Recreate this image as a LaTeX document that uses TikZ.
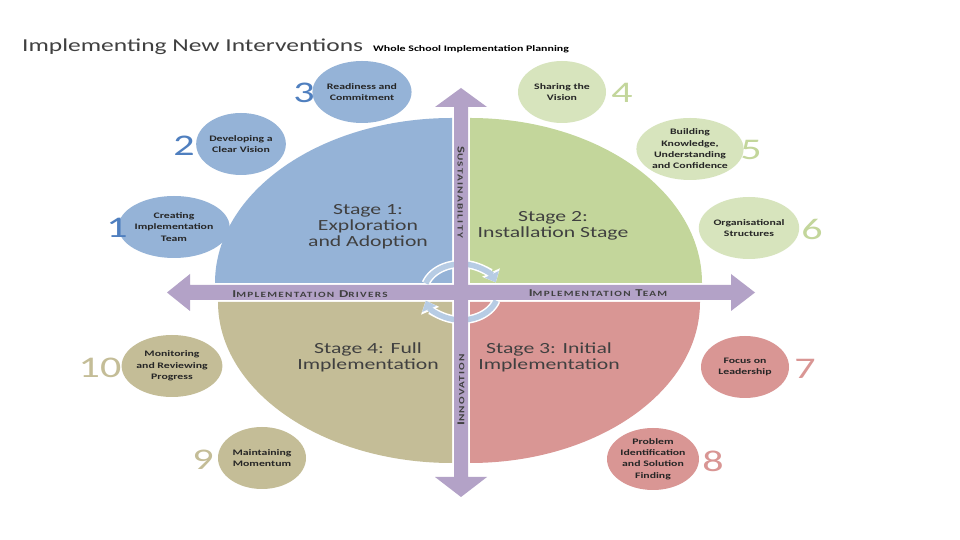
\documentclass[tikz,border=0pt]{standalone}
\usepackage{fontspec}
\setmainfont{Carlito}[FakeStretch=1.4]
\newfontfamily\capsfont{Carlito}[FakeStretch=1.4,LetterSpace=16]
\usetikzlibrary{shapes.geometric,arrows.meta}
\definecolor{qblue}{HTML}{95B3D7}
\definecolor{qgreen}{HTML}{C3D69B}
\definecolor{qgreenl}{HTML}{D7E4BD}
\definecolor{qtan}{HTML}{C4BD97}
\definecolor{qpink}{HTML}{D99694}
\definecolor{nblue}{HTML}{4F7FBF}
\definecolor{arrowc}{HTML}{B3A2C7}
\definecolor{cycblue}{HTML}{B7CCE4}
\definecolor{txt}{HTML}{404040}
\definecolor{ctxt}{HTML}{262626}
\newcommand{\fsc}[2]{{\fontsize{10.5}{10.5}\selectfont #1}{\fontsize{8}{8}\selectfont #2}}
\begin{document}
\begin{tikzpicture}[x=1pt,y=1pt,
  sc/.style={ellipse, minimum width=88pt, minimum height=62pt, inner sep=0pt, align=center,
    text=ctxt, font=\fontsize{8.4}{11.3}\selectfont\bfseries},
  num/.style={font=\fontsize{30}{30}\selectfont, inner sep=0pt},
  stagetxt/.style={align=center, text=txt, font=\fontsize{15.5}{16.2}\selectfont},
  axlbl/.style={text=txt, inner sep=0pt, font=\capsfont\bfseries},
  cyc/.style={line width=5.5pt, draw=cycblue, -{Triangle[length=9pt,width=15pt]},
    preaction={draw=white, line width=8.5pt, -{Triangle[length=11pt,width=19pt]}}}]
\useasboundingbox (0,0) rectangle (960,540);
\fill[white] (0,0) rectangle (960,540);

% title
\node[anchor=base west, inner sep=0pt, text=txt, font=\fontsize{18.2}{18.2}\selectfont] (title) at (22,488) {Implementing New Interventions};
\node[anchor=base west, inner sep=0pt, text=black, font=\fontsize{8.5}{8.5}\selectfont\bfseries] (subtitle) at (373,488) {Whole School Implementation Planning};

% quadrants
\fill[qblue] (452,257) -- (215,257) arc[start angle=180,end angle=90,x radius=237pt,y radius=165pt] -- cycle;
\fill[qgreen] (470,257) -- (702,257) arc[start angle=0,end angle=90,x radius=232pt,y radius=165pt] -- cycle;
\fill[qtan] (452,238) -- (218,238) arc[start angle=180,end angle=270,x radius=234pt,y radius=161pt] -- cycle;
\fill[qpink] (470,238) -- (700,238) arc[start angle=0,end angle=-90,x radius=230pt,y radius=161pt] -- cycle;

% cycle arrows
\draw[cyc] (461,248) ++(162:37pt and 28pt) arc[start angle=162,end angle=20,x radius=37pt,y radius=28pt];
\draw[cyc] (461,248) ++(-18:37pt and 28pt) arc[start angle=-18,end angle=-162,x radius=37pt,y radius=28pt];

% axis arrows
\fill[arrowc] (167,247.5) -- (190,266) -- (190,255) -- (731,255) -- (731,266) -- (755,247.5) -- (731,229) -- (731,240) -- (190,240) -- (190,229) -- cycle;
\fill[arrowc] (461,452) -- (487,433) -- (468,433) -- (468,63) -- (487,63) -- (461,43) -- (435,63) -- (454,63) -- (454,433) -- (435,433) -- cycle;

% axis labels
\node[axlbl] (drivers) at (310,246) {\fsc{I}{MPLEMENTATION} \fsc{D}{RIVERS}};
\node[axlbl] (team) at (598,247) {\fsc{I}{MPLEMENTATION} \fsc{T}{EAM}};
\node[axlbl, rotate=-90] (sust) at (461,348) {\fsc{S}{USTAINABILITY}};
\node[axlbl, rotate=90] (innov) at (461,150) {\fsc{I}{NNOVATION}};

% stage texts
\node[stagetxt] (s1) at (368,313) {Stage 1:\\Exploration\\and Adoption};
\node[stagetxt] (s2) at (553,314) {Stage 2:\\Installation Stage};
\node[stagetxt] (s3) at (549,183) {Stage 3: Initial\\Implementation};
\node[stagetxt] (s4) at (368,183) {Stage 4: Full\\Implementation};

% circles
\node[sc, fill=qblue] (c1) at (174,313) {Creating\\Implementation\\Team};
\node[sc, fill=qblue] (c2) at (241,396) {Developing a\\Clear Vision};
\node[sc, fill=qblue] (c3) at (362,448) {Readiness and\\Commitment};
\node[sc, fill=qgreenl] (c4) at (562,448) {Sharing the\\Vision};
\node[sc, fill=qgreenl] (c5) at (690,391) {Building\\Knowledge,\\Understanding\\and Confidence};
\node[sc, fill=qgreenl] (c6) at (749,312) {Organisational\\Structures};
\node[sc, fill=qpink] (c7) at (745,173) {Focus on\\Leadership};
\node[sc, fill=qpink] (c8) at (653,81) {Problem\\Identification\\and Solution\\Finding};
\node[sc, fill=qtan] (c9) at (262,82) {Maintaining\\Momentum};
\node[sc, fill=qtan] (c10) at (172,174) {Monitoring\\and Reviewing\\Progress};

% numbers
\node[num, text=nblue] (n1) at (117,312) {1};
\node[num, text=nblue] (n2) at (184,394) {2};
\node[num, text=nblue] (n3) at (304,447) {3};
\node[num, text=qgreen] (n4) at (622,447) {4};
\node[num, text=qgreen] (n5) at (751,390) {5};
\node[num, text=qgreen] (n6) at (812,311) {6};
\node[num, text=qpink] (n7) at (805,171) {7};
\node[num, text=qpink] (n8) at (713,79) {8};
\node[num, text=qtan] (n9) at (203,80) {9};
\node[num, text=qtan] (n10) at (100,172) {10};
\end{tikzpicture}
\end{document}
